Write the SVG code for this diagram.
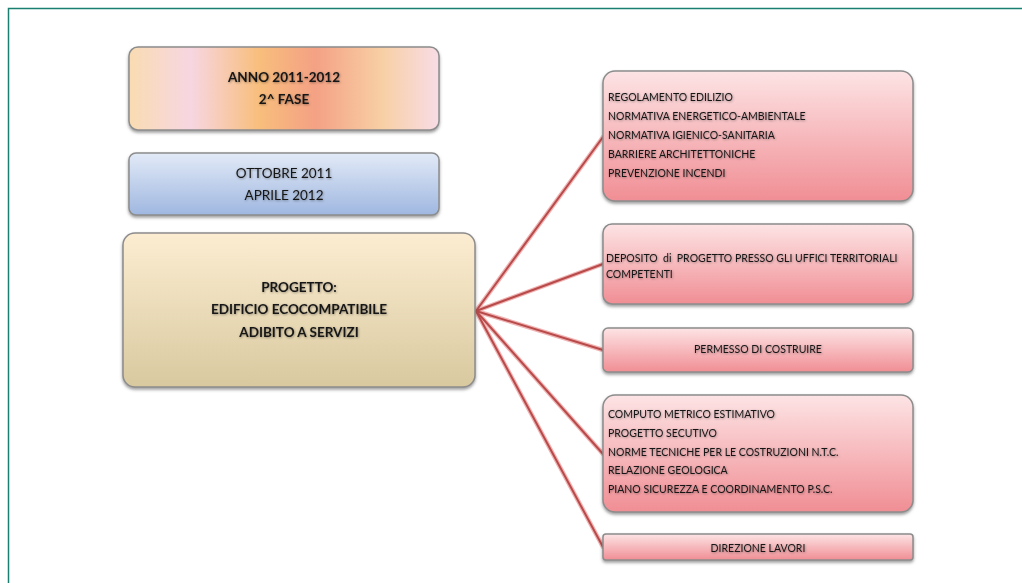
<svg xmlns="http://www.w3.org/2000/svg" width="1022" height="583" viewBox="0 0 1022 583">
  <style>
    .box { stroke: #8c8c8c; stroke-width: 1.5; filter: url(#shadow); }
    .t { font-family: Lato, "Open Sans", "Liberation Sans", sans-serif; fill: #161616; filter: url(#textShadow); }
    .title { font-size: 13.5px; font-weight: bold; text-anchor: middle; }
    .plain { font-size: 13.5px; text-anchor: middle; }
    .item { font-size: 10.5px; }
    .itemc { font-size: 10.5px; text-anchor: middle; }
    .link-halo { stroke: #f0b4b4; stroke-width: 4.5; fill: none; stroke-linecap: round; }
    .link { stroke: #b84a4a; stroke-width: 2; fill: none; stroke-linecap: round; }
  </style>
  <defs>
    <filter id="shadow" x="-10%" y="-10%" width="120%" height="130%">
      <feDropShadow dx="0" dy="2" stdDeviation="1.6" flood-color="#505050" flood-opacity="0.55"/>
    </filter>
    <filter id="textShadow" x="-5%" y="-30%" width="110%" height="160%">
      <feDropShadow dx="0.6" dy="0.8" stdDeviation="0.9" flood-color="#000000" flood-opacity="0.4"/>
    </filter>
    <linearGradient id="gAnno" x1="0" y1="0" x2="1" y2="0">
      <stop offset="0" stop-color="#f9dcb2"/>
      <stop offset="0.2" stop-color="#f7d6e2"/>
      <stop offset="0.42" stop-color="#f8be7c"/>
      <stop offset="0.6" stop-color="#f4a184"/>
      <stop offset="0.82" stop-color="#f8d0a6"/>
      <stop offset="1" stop-color="#f8dce6"/>
    </linearGradient>
    <linearGradient id="gBlue" x1="0" y1="0" x2="0" y2="1">
      <stop offset="0" stop-color="#e2eaf7"/>
      <stop offset="1" stop-color="#9fb7e0"/>
    </linearGradient>
    <linearGradient id="gTan" x1="0" y1="0" x2="0" y2="1">
      <stop offset="0" stop-color="#fcedd2"/>
      <stop offset="1" stop-color="#d9c99f"/>
    </linearGradient>
    <linearGradient id="gPink" x1="0" y1="0" x2="0" y2="1">
      <stop offset="0" stop-color="#fde4e5"/>
      <stop offset="1" stop-color="#f08e94"/>
    </linearGradient>
  </defs>

  <rect width="1022" height="583" fill="#ffffff"/>
  <!-- frame -->
  <path d="M8.5 583 V8.5 H1022" fill="none" stroke="#1a7f70" stroke-width="1.5"/>

  <!-- connectors from the project box to the tasks -->
  <g id="connectors">
    <g class="link-halo">
      <line x1="476" y1="311" x2="603" y2="137"/>
      <line x1="476" y1="311" x2="603" y2="264"/>
      <line x1="476" y1="311" x2="603" y2="350"/>
      <line x1="476" y1="311" x2="603" y2="454"/>
      <line x1="476" y1="311" x2="603" y2="547"/>
    </g>
    <g class="link">
      <line x1="476" y1="311" x2="603" y2="137"/>
      <line x1="476" y1="311" x2="603" y2="264"/>
      <line x1="476" y1="311" x2="603" y2="350"/>
      <line x1="476" y1="311" x2="603" y2="454"/>
      <line x1="476" y1="311" x2="603" y2="547"/>
    </g>
  </g>

  <g id="anno">
    <rect class="box" x="129" y="47" width="310" height="83" rx="9" fill="url(#gAnno)"/>
    <text class="t title" x="284" y="82">ANNO 2011-2012</text>
    <text class="t title" x="284" y="104">2^ FASE</text>
  </g>

  <g id="periodo">
    <rect class="box" x="129" y="153" width="310" height="62" rx="7" fill="url(#gBlue)"/>
    <text class="t plain" x="284" y="178">OTTOBRE 2011</text>
    <text class="t plain" x="284" y="200">APRILE 2012</text>
  </g>

  <g id="progetto">
    <rect class="box" x="123" y="233" width="352" height="154" rx="12" fill="url(#gTan)"/>
    <text class="t title" x="299" y="292">PROGETTO:</text>
    <text class="t title" x="299" y="314">EDIFICIO ECOCOMPATIBILE</text>
    <text class="t title" x="299" y="337">ADIBITO A SERVIZI</text>
  </g>

  <g id="normative">
    <rect class="box" x="603" y="71" width="310" height="130" rx="12" fill="url(#gPink)"/>
    <text class="t item" x="608" y="101">REGOLAMENTO EDILIZIO</text>
    <text class="t item" x="608" y="120">NORMATIVA ENERGETICO-AMBIENTALE</text>
    <text class="t item" x="608" y="139">NORMATIVA IGIENICO-SANITARIA</text>
    <text class="t item" x="608" y="158">BARRIERE ARCHITETTONICHE</text>
    <text class="t item" x="608" y="177">PREVENZIONE INCENDI</text>
  </g>

  <g id="deposito">
    <rect class="box" x="603" y="224" width="310" height="80" rx="9" fill="url(#gPink)"/>
    <text class="t item" x="606" y="262" xml:space="preserve">DEPOSITO  di  PROGETTO PRESSO GLI UFFICI TERRITORIALI</text>
    <text class="t item" x="606" y="278">COMPETENTI</text>
  </g>

  <g id="permesso">
    <rect class="box" x="603" y="328" width="310" height="44" rx="5" fill="url(#gPink)"/>
    <text class="t itemc" x="758" y="353">PERMESSO DI COSTRUIRE</text>
  </g>

  <g id="esecutivo">
    <rect class="box" x="603" y="395" width="310" height="117" rx="12" fill="url(#gPink)"/>
    <text class="t item" x="608" y="418">COMPUTO METRICO ESTIMATIVO</text>
    <text class="t item" x="608" y="437">PROGETTO SECUTIVO</text>
    <text class="t item" x="608" y="456">NORME TECNICHE PER LE COSTRUZIONI N.T.C.</text>
    <text class="t item" x="608" y="474">RELAZIONE GEOLOGICA</text>
    <text class="t item" x="608" y="493">PIANO SICUREZZA E COORDINAMENTO P.S.C.</text>
  </g>

  <g id="direzione">
    <rect class="box" x="603" y="534" width="310" height="26" rx="3" fill="url(#gPink)"/>
    <text class="t itemc" x="758" y="552">DIREZIONE LAVORI</text>
  </g>
</svg>
